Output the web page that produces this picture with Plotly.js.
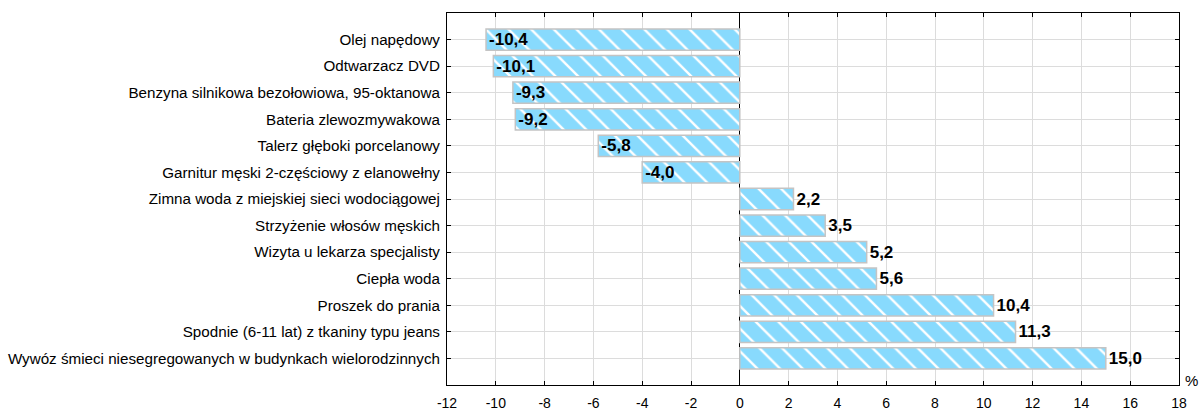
<!DOCTYPE html>
<html>
<head>
<meta charset="utf-8">
<script src="https://cdn.plot.ly/plotly-3.0.1.min.js"></script>
<style>html,body{margin:0;padding:0;background:#fff;}#chart{width:1201px;height:410px;}</style>
</head>
<body>
<div id="chart"></div>
<script>
const categories = [
  "Olej napędowy",
  "Odtwarzacz DVD",
  "Benzyna silnikowa bezołowiowa, 95-oktanowa",
  "Bateria zlewozmywakowa",
  "Talerz głęboki porcelanowy",
  "Garnitur męski 2-częściowy z elanowełny",
  "Zimna woda z miejskiej sieci wodociągowej",
  "Strzyżenie włosów męskich",
  "Wizyta u lekarza specjalisty",
  "Ciepła woda",
  "Proszek do prania",
  "Spodnie (6-11 lat) z tkaniny typu jeans",
  "Wywóz śmieci niesegregowanych w budynkach wielorodzinnych"
];
const values = [-10.4, -10.1, -9.3, -9.2, -5.8, -4.0, 2.2, 3.5, 5.2, 5.6, 10.4, 11.3, 15.0];
const tickValues = [-12, -10, -8, -6, -4, -2, 0, 2, 4, 6, 8, 10, 12, 14, 16, 18];
const tickLabels = ["-12", "-10", "-8", "-6", "-4", "-2", "0", "2", "4", "6", "8", "10", "12", "14", "16", "18"];
const unitLabel = "%";

const labels = values.map(v => v.toFixed(1).replace('.', ','));
const positions = values.map(v => v < 0 ? 'inside' : 'outside');
const labelFont = {family: 'Liberation Sans, Arial, sans-serif', size: 17, color: '#000', weight: 'bold'};

const trace = {
  type: 'bar',
  orientation: 'h',
  x: values,
  y: categories,
  width: 0.8,
  text: labels,
  textposition: positions,
  insidetextanchor: 'end',
  constraintext: 'none',
  textangle: 0,
  cliponaxis: false,
  textfont: labelFont,
  insidetextfont: labelFont,
  outsidetextfont: labelFont,
  marker: {
    color: '#88dafd',
    line: {color: '#c4c4c4', width: 1.5},
    pattern: {shape: '\\', fgcolor: '#ffffff', bgcolor: '#88dafd', size: 16, solidity: 0.15, fillmode: 'replace'}
  },
  hoverinfo: 'none'
};

const layout = {
  width: 1201, height: 410,
  margin: {l: 447, r: 22, t: 13, b: 25},
  paper_bgcolor: '#fff', plot_bgcolor: '#fff',
  showlegend: false,
  font: {family: 'Liberation Sans, Arial, sans-serif', color: '#000'},
  bargap: 0.2,
  xaxis: {
    range: [-12, 18],
    tickmode: 'array', tickvals: tickValues, ticktext: tickLabels,
    tickfont: {size: 14, color: '#000'},
    ticklabelstandoff: 5,
    showgrid: true, gridcolor: '#dcdcdc', gridwidth: 1,
    zeroline: true, zerolinecolor: '#000', zerolinewidth: 1,
    showline: true, linecolor: '#000', linewidth: 1, mirror: 'ticks',
    ticks: 'inside', ticklen: 4, tickcolor: '#000',
    fixedrange: true
  },
  yaxis: {
    type: 'category',
    categoryorder: 'array', categoryarray: categories,
    range: [13, -1],
    tickfont: {size: 15.2, color: '#000'},
    showgrid: true, gridcolor: '#dcdcdc', gridwidth: 1,
    showline: true, linecolor: '#000', linewidth: 1, mirror: 'ticks',
    ticks: 'inside', ticklen: 4, tickcolor: '#000',
    ticklabelstandoff: 3,
    fixedrange: true
  },
  annotations: [{
    text: unitLabel, xref: 'paper', yref: 'paper', x: 1, y: 0,
    xanchor: 'left', yanchor: 'middle', xshift: 4, yshift: 5,
    showarrow: false, font: {size: 15, color: '#000'}
  }]
};

Plotly.newPlot('chart', [trace], layout, {staticPlot: true, displayModeBar: false});
</script>
</body>
</html>
